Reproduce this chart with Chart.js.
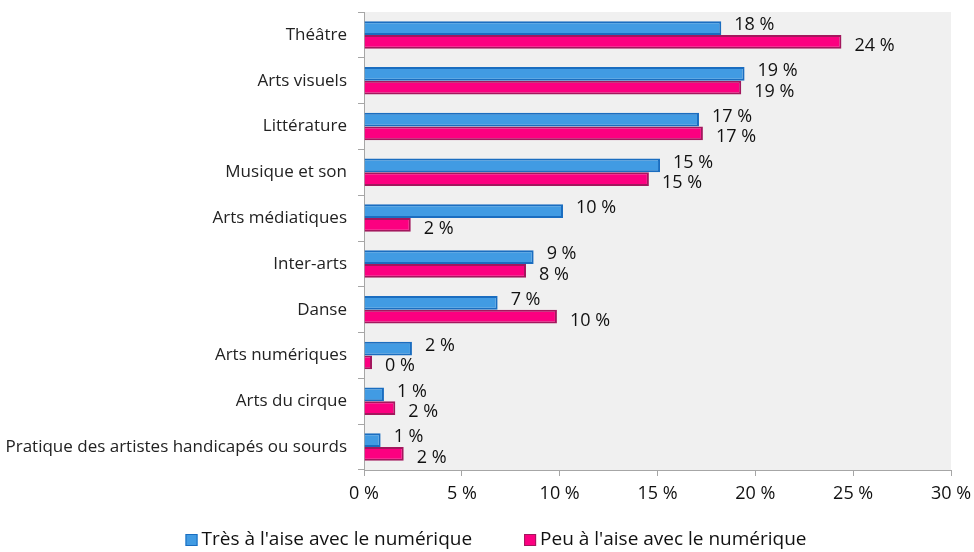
<!DOCTYPE html>
<html>
<head>
<meta charset="utf-8">
<script src="https://cdn.jsdelivr.net/npm/chart.js@4.4.1/dist/chart.umd.min.js"></script>
<style>
  html, body { margin: 0; padding: 0; background: #fff; }
  #wrap { width: 974px; height: 552px; }
</style>
</head>
<body>
<div id="wrap"><canvas id="chart" width="974" height="552"></canvas></div>
<script>
const categories = ['Théâtre', 'Arts visuels', 'Littérature', 'Musique et son', 'Arts médiatiques',
  'Inter-arts', 'Danse', 'Arts numériques', 'Arts du cirque', 'Pratique des artistes handicapés ou sourds'];
const seriesNames = ["Très à l'aise avec le numérique", "Peu à l'aise avec le numérique"];
const tresAlaise = [18.26, 19.45, 17.12, 15.13, 10.17, 8.67, 6.83, 2.45, 1.02, 0.85];
const peuAlaise = [24.4, 19.28, 17.32, 14.56, 2.39, 8.28, 9.86, 0.41, 1.6, 2.03];
const xTicks = [0, 5, 10, 15, 20, 25, 30];

const FONT = "'Open Sans', 'Noto Sans', sans-serif";
const colors = [
  { fill: '#419be3', border: '#1a6dc0' },
  { fill: '#fc0080', border: '#a3175d' }
];

// grey plot background
const plotBg = {
  id: 'plotBg',
  beforeDraw(chart) {
    const a = chart.chartArea, ctx = chart.ctx;
    ctx.save();
    ctx.fillStyle = '#f0f0f0';
    ctx.fillRect(a.left, a.top, a.right - a.left, a.bottom - a.top);
    ctx.restore();
  }
};

// "18 %" style labels beside the bars
const valueLabels = {
  id: 'valueLabels',
  afterDatasetsDraw(chart) {
    const ctx = chart.ctx;
    ctx.save();
    ctx.font = '18px ' + FONT;
    ctx.fillStyle = '#111';
    ctx.textAlign = 'left';
    ctx.textBaseline = 'middle';
    chart.data.datasets.forEach((ds, i) => {
      chart.getDatasetMeta(i).data.forEach((bar, j) => {
        const dy = i === 0 ? -3 : 4;
        ctx.fillText(Math.round(ds.data[j]) + ' %', bar.x + 13, bar.y + dy);
      });
    });
    ctx.restore();
  }
};

// legend drawn at the bottom
const bottomLegend = {
  id: 'bottomLegend',
  afterDraw(chart) {
    const ctx = chart.ctx;
    ctx.save();
    ctx.font = '19px ' + FONT;
    ctx.textBaseline = 'middle';
    const box = 12, gapText = 4, gapItem = 52;
    const widths = chart.data.datasets.map(ds => box + gapText + ctx.measureText(ds.label).width);
    const total = widths.reduce((a, b) => a + b, 0) + gapItem * (widths.length - 1);
    let x = 496 - total / 2;
    const y = 540;
    chart.data.datasets.forEach((ds, i) => {
      ctx.fillStyle = ds.backgroundColor;
      ctx.strokeStyle = ds.borderColor;
      ctx.lineWidth = 1;
      ctx.fillRect(x, y - box / 2, box, box);
      ctx.strokeRect(x + 0.5, y - box / 2 + 0.5, box - 1, box - 1);
      ctx.fillStyle = '#111';
      ctx.textAlign = 'left';
      ctx.fillText(ds.label, x + box + gapText, y);
      x += widths[i] + gapItem;
    });
    ctx.restore();
  }
};

new Chart(document.getElementById('chart'), {
  type: 'bar',
  data: {
    labels: categories,
    datasets: [
      { label: seriesNames[0], data: tresAlaise, backgroundColor: colors[0].fill, borderColor: colors[0].border, borderWidth: 2 },
      { label: seriesNames[1], data: peuAlaise, backgroundColor: colors[1].fill, borderColor: colors[1].border, borderWidth: 2 }
    ]
  },
  options: {
    indexAxis: 'y',
    responsive: false,
    animation: false,
    layout: { padding: { top: 12, right: 23, left: 0, bottom: 36 } },
    datasets: { bar: { categoryPercentage: 0.6, barPercentage: 1.0 } },
    plugins: {
      legend: { display: false },
      tooltip: { enabled: false }
    },
    scales: {
      x: {
        min: 0,
        max: 30,
        afterBuildTicks(scale) { scale.ticks = xTicks.map(v => ({ value: v })); },
        afterFit(scale) {
          scale.height = 46;
          scale.paddingLeft = 0;
          scale.paddingRight = 0;
        },
        grid: { drawOnChartArea: false, drawTicks: true, tickLength: 6, color: '#a6a6a6' },
        border: { display: true, color: '#a6a6a6' },
        ticks: {
          font: { size: 18, family: FONT },
          color: '#111',
          padding: 7,
          maxRotation: 0,
          callback: v => v + ' %'
        }
      },
      y: {
        afterFit(scale) {
          scale.width = 364;
          scale.paddingTop = 0;
          scale.paddingBottom = 0;
        },
        grid: { drawOnChartArea: false, drawTicks: true, tickLength: 6, color: '#a6a6a6', offset: true },
        border: { display: true, color: '#a6a6a6' },
        ticks: {
          font: { size: 17, family: FONT },
          color: '#222',
          padding: 11
        }
      }
    }
  },
  plugins: [plotBg, valueLabels, bottomLegend]
});
</script>
</body>
</html>
